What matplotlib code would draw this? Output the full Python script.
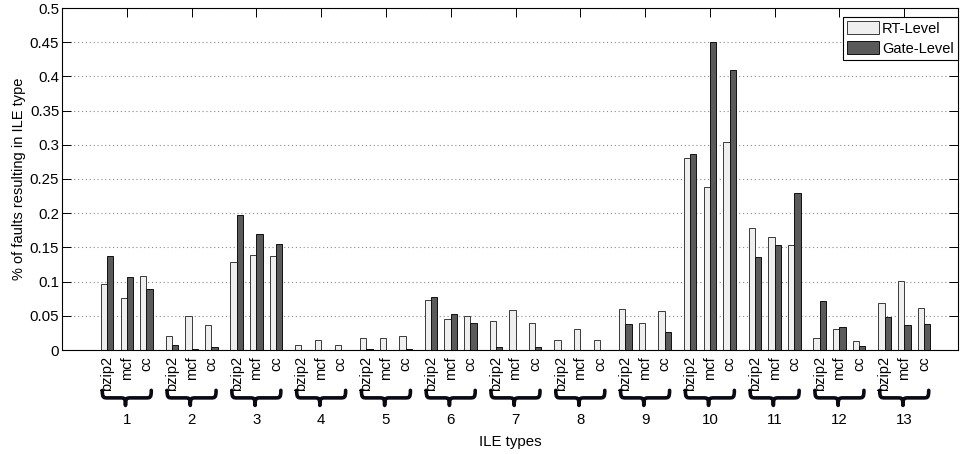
import numpy as np
import matplotlib
matplotlib.use("Agg")
import matplotlib.pyplot as plt
from matplotlib.path import Path
from matplotlib.patches import PathPatch
import matplotlib.transforms as mtransforms

plt.rcParams['font.family'] = ['Liberation Sans', 'DejaVu Sans']

# ---- data ----
groups = ['1', '2', '3', '4', '5', '6', '7', '8', '9', '10', '11', '12', '13']
benchmarks = ['bzip2', 'mcf', 'cc']
series_names = ['RT-Level', 'Gate-Level']

# values per group: [bzip2, mcf, cc]
rt_level = [
    [0.096, 0.076, 0.108],
    [0.021, 0.050, 0.036],
    [0.128, 0.139, 0.137],
    [0.008, 0.014, 0.007],
    [0.018, 0.017, 0.020],
    [0.073, 0.046, 0.050],
    [0.042, 0.058, 0.040],
    [0.014, 0.030, 0.015],
    [0.060, 0.039, 0.057],
    [0.280, 0.238, 0.304],
    [0.178, 0.165, 0.154],
    [0.018, 0.031, 0.013],
    [0.068, 0.101, 0.062],
]
gate_level = [
    [0.137, 0.107, 0.089],
    [0.007, 0.001, 0.004],
    [0.198, 0.169, 0.155],
    [0.000, 0.000, 0.000],
    [0.0015, 0.000, 0.0015],
    [0.077, 0.053, 0.040],
    [0.005, 0.000, 0.004],
    [0.000, 0.000, 0.000],
    [0.038, 0.000, 0.027],
    [0.287, 0.450, 0.410],
    [0.136, 0.153, 0.230],
    [0.072, 0.034, 0.006],
    [0.048, 0.036, 0.038],
]
yticks = [0, 0.05, 0.1, 0.15, 0.2, 0.25, 0.3, 0.35, 0.4, 0.45, 0.5]
ytick_labels = ['0', '0.05', '0.1', '0.15', '0.2', '0.25', '0.3', '0.35', '0.4', '0.45', '0.5']

# ---- layout ----
fig = plt.figure(figsize=(9.6, 4.54), dpi=100)
ax = fig.add_axes([62 / 960, (454 - 350) / 454, (958 - 62) / 960, 342 / 454])

offs = np.array([-0.304, 0.0, 0.304])
bw = 0.097
rt = np.array(rt_level)
gl = np.array(gate_level)
centers = np.arange(1, len(groups) + 1)

xs = (centers[:, None] + offs[None, :]).ravel()
ax.bar(xs - bw / 2, rt.ravel(), width=bw, color='#efefef', edgecolor='#3a3a3a',
       linewidth=0.7, label=series_names[0], zorder=2)
ax.bar(xs + bw / 2, gl.ravel(), width=bw, color='#5a5a5a', edgecolor='#111111',
       linewidth=0.7, label=series_names[1], zorder=2)

ax.set_xlim(0.0, 13.83)
ax.set_ylim(0, 0.5)
ax.set_yticks(yticks)
ax.set_yticklabels(ytick_labels, fontsize=10.8)
ax.set_xticks(centers)
ax.set_xticklabels([])
ax.tick_params(axis='both', direction='in', top=True, right=True, length=6.5,
               width=0.7, color='black', pad=2)
ax.yaxis.grid(True, linestyle=(0, (1, 2.5)), color='#8a8a8a', linewidth=0.8)
ax.set_axisbelow(True)
for s in ax.spines.values():
    s.set_linewidth(0.8)
    s.set_color('black')

ax.set_ylabel('% of faults resulting in ILE type', fontsize=10.5, labelpad=3)

trans = mtransforms.blended_transform_factory(ax.transData, ax.transAxes)

# benchmark labels under each pair
for c in centers:
    for o, name in zip(offs, benchmarks):
        ax.text(c + o, -0.0175, name, rotation=90, ha='center', va='top',
                fontsize=10.5, transform=trans, clip_on=False)

# braces
yt, ym, yb = -0.118, -0.140, -0.162
W = 0.756
q = 0.11 * W
for c in centers:
    x0, x1, xc = c - W / 2, c + W / 2, c - 0.02
    verts = [
        (x0, yt), (x0, ym), (x0 + 0.2 * q, ym), (x0 + q, ym),
        (xc - q, ym),
        (xc - 0.2 * q, ym), (xc, ym), (xc, yb),
        (xc, ym), (xc + 0.2 * q, ym), (xc + q, ym),
        (x1 - q, ym),
        (x1 - 0.2 * q, ym), (x1, ym), (x1, yt),
    ]
    codes = [Path.MOVETO, Path.CURVE4, Path.CURVE4, Path.CURVE4,
             Path.LINETO,
             Path.CURVE4, Path.CURVE4, Path.CURVE4,
             Path.CURVE4, Path.CURVE4, Path.CURVE4,
             Path.LINETO,
             Path.CURVE4, Path.CURVE4, Path.CURVE4]
    pp = PathPatch(Path(verts, codes), transform=trans, facecolor='none',
                   edgecolor='#0a0a14', linewidth=2.6, capstyle='round',
                   joinstyle='round', clip_on=False)
    ax.add_patch(pp)

# group numbers
for c, g in zip(centers, groups):
    ax.text(c, -0.2047, g, ha='center', va='center', fontsize=10.8,
            transform=trans, clip_on=False)

ax.text(0.5, -0.269, 'ILE types', ha='center', va='center', fontsize=10.8,
        transform=ax.transAxes)

leg = ax.legend(loc='upper right', bbox_to_anchor=(1.0, 0.9737), borderaxespad=0,
                fontsize=10.5, fancybox=False, framealpha=1, edgecolor='black',
                handlelength=2.2, handleheight=1.0, handletextpad=0.2,
                borderpad=0.3, labelspacing=0.35)
leg.get_frame().set_linewidth(0.8)

fig.savefig('out.png', dpi=100)
